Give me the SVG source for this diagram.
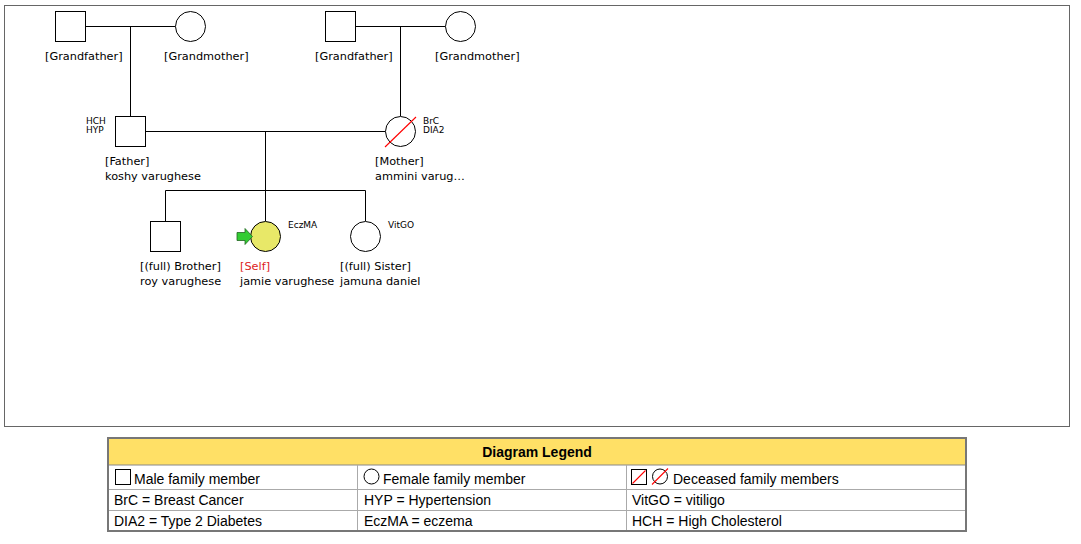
<svg xmlns="http://www.w3.org/2000/svg" width="1081" height="544" viewBox="0 0 1081 544">
<style>
.ln{stroke:#000;stroke-width:1;fill:none}
.nd{stroke:#000;stroke-width:1;fill:#fff}
.lbl{font-family:"DejaVu Sans",sans-serif;font-size:11.3px;fill:#000}
.sm{font-family:"DejaVu Sans",sans-serif;font-size:9px;fill:#000}
.dec{stroke:#f00;stroke-width:1.1}
.lg{font-family:"Liberation Sans",Arial,sans-serif;font-size:14px;fill:#000}
.lgh{font-family:"Liberation Sans",Arial,sans-serif;font-size:14px;font-weight:bold;fill:#000}
.sep{stroke:#aaa;stroke-width:1}
</style>
<rect x="0" y="0" width="1081" height="544" fill="#fff"/>
<rect x="4.5" y="5.5" width="1065" height="421" fill="#fff" stroke="#666" stroke-width="1"/>

<g id="connectors">
<path class="ln" d="M85.5 26.5H175.5M130.5 26.5V116"/>
<path class="ln" d="M355.5 26.5H445.5M400.5 26.5V116"/>
<path class="ln" d="M145.5 131.5H385.5M265.5 131.5V190.5"/>
<path class="ln" d="M165.5 190.5H365.5M165.5 190.5V221M265.5 190.5V221M365.5 190.5V221"/>
</g>

<g id="gf1"><rect class="nd" x="55.5" y="11.5" width="30" height="30"/><text class="lbl" x="45" y="60">[Grandfather]</text></g>
<g id="gm1"><circle class="nd" cx="190.5" cy="26.5" r="15"/><text class="lbl" x="164" y="60">[Grandmother]</text></g>
<g id="gf2"><rect class="nd" x="325.5" y="11.5" width="30" height="30"/><text class="lbl" x="315" y="60">[Grandfather]</text></g>
<g id="gm2"><circle class="nd" cx="460.5" cy="26.5" r="15"/><text class="lbl" x="435" y="60">[Grandmother]</text></g>

<g id="father"><rect class="nd" x="115.5" y="116.5" width="30" height="30"/>
<text class="sm" x="86" y="124">HCH</text><text class="sm" x="86" y="132.5">HYP</text>
<text class="lbl" x="105" y="165">[Father]</text><text class="lbl" x="105" y="180">koshy varughese</text></g>

<g id="mother"><circle class="nd" cx="400.5" cy="131.5" r="15"/><line class="dec" x1="385" y1="147" x2="416" y2="117"/>
<text class="sm" x="423" y="123.5">BrC</text><text class="sm" x="423" y="132.5">DIA2</text>
<text class="lbl" x="375" y="165">[Mother]</text><text class="lbl" x="375" y="180">ammini varug…</text></g>

<g id="brother"><rect class="nd" x="150.5" y="221.5" width="30" height="30"/>
<text class="lbl" x="140" y="270">[(full) Brother]</text><text class="lbl" x="140" y="285">roy varughese</text></g>

<g id="self"><circle cx="265.5" cy="236.5" r="15" fill="#e8e868" stroke="#000"/>
<polygon points="237,232.5 245,232.5 245,228.5 252.5,236.5 245,244.5 245,240.5 237,240.5" fill="#33cc33" stroke="#226622" stroke-width="0.8"/>
<text class="sm" x="288" y="228">EczMA</text>
<text class="lbl" x="240" y="270" style="fill:#dd2222">[Self]</text><text class="lbl" x="240" y="285">jamie varughese</text></g>

<g id="sister"><circle class="nd" cx="365.5" cy="236.5" r="15"/>
<text class="sm" x="388" y="228">VitGO</text>
<text class="lbl" x="340" y="270">[(full) Sister]</text><text class="lbl" x="340" y="285">jamuna daniel</text></g>

<g id="legend">
<rect x="108" y="438" width="858" height="27" fill="#ffe066"/>
<line class="sep" x1="108" y1="465" x2="966" y2="465" style="stroke:#888"/>
<line class="sep" x1="108" y1="489.5" x2="966" y2="489.5"/>
<line class="sep" x1="108" y1="510.5" x2="966" y2="510.5"/>
<line class="sep" x1="357.5" y1="465" x2="357.5" y2="531"/>
<line class="sep" x1="626.5" y1="465" x2="626.5" y2="531"/>
<rect x="108" y="438" width="858" height="93" fill="none" stroke="#777" stroke-width="2"/>
<text class="lgh" x="537" y="457" text-anchor="middle">Diagram Legend</text>
<rect x="115.5" y="469.5" width="15" height="15" fill="#fff" stroke="#000"/>
<text class="lg" x="134" y="484">Male family member</text>
<circle cx="371.5" cy="476.5" r="7.5" fill="#fff" stroke="#000"/>
<text class="lg" x="383" y="484">Female family member</text>
<rect x="631.5" y="469.5" width="15" height="15" fill="#fff" stroke="#000"/>
<line class="dec" x1="632.5" y1="483.5" x2="645.5" y2="470.5"/>
<circle cx="660" cy="476.5" r="7.5" fill="#fff" stroke="#000"/>
<line class="dec" x1="652" y1="484.5" x2="668" y2="468.5"/>
<text class="lg" x="673" y="484">Deceased family members</text>
<text class="lg" x="114" y="505">BrC = Breast Cancer</text>
<text class="lg" x="364" y="505">HYP = Hypertension</text>
<text class="lg" x="632" y="505">VitGO = vitiligo</text>
<text class="lg" x="114" y="526">DIA2 = Type 2 Diabetes</text>
<text class="lg" x="364" y="526">EczMA = eczema</text>
<text class="lg" x="632" y="526">HCH = High Cholesterol</text>
</g>
</svg>
